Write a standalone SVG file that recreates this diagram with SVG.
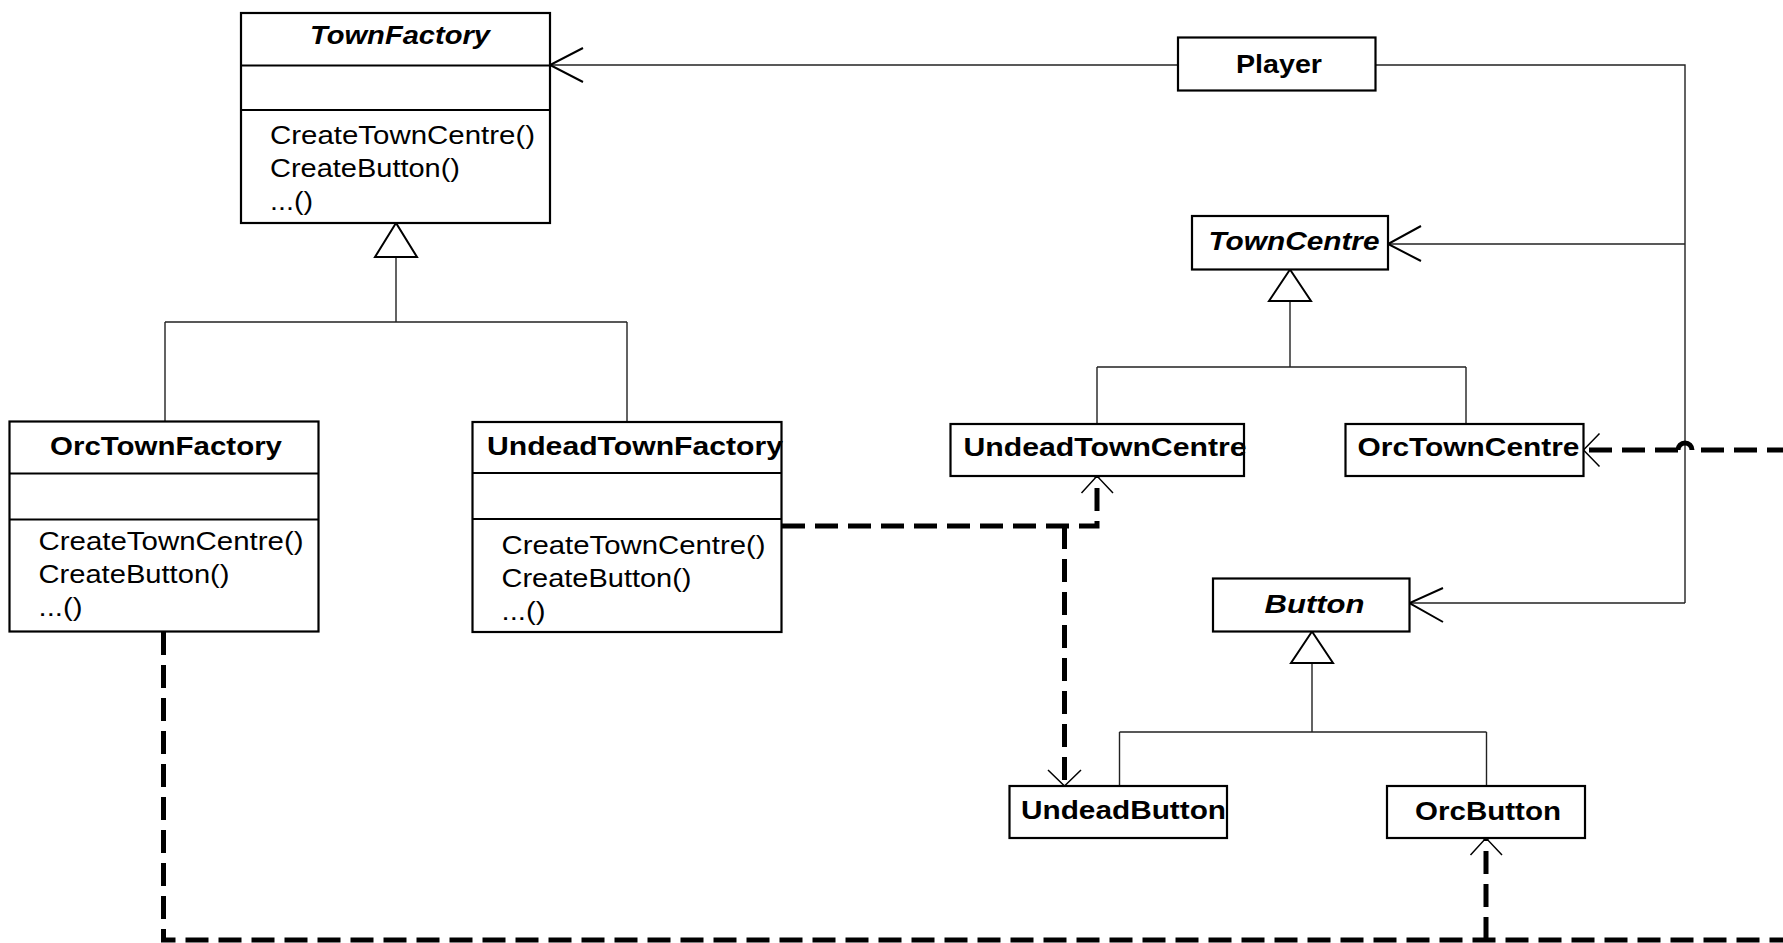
<svg xmlns="http://www.w3.org/2000/svg" width="1783" height="943" viewBox="0 0 1783 943">
<style>
.box{fill:#fff;stroke:#000;stroke-width:2.2}
.sep{stroke:#000;stroke-width:2.2}
.t{font-family:"Liberation Sans",Arial,sans-serif;font-size:25px;fill:#000;font-weight:bold}
.ti{font-family:"Liberation Sans",Arial,sans-serif;font-size:25px;fill:#000;font-weight:bold;font-style:italic}
.m{font-family:"Liberation Sans",Arial,sans-serif;font-size:26px;fill:#000}
.ln{fill:none;stroke:#222;stroke-width:1.4}
.ah{fill:none;stroke:#000;stroke-width:2}
.ahs{fill:none;stroke:#000;stroke-width:1.5}
.tri{fill:#fff;stroke:#000;stroke-width:2}
.dash{fill:none;stroke:#000;stroke-width:5;stroke-dasharray:23 10}
.hop{fill:none;stroke:#000;stroke-width:5}
</style>
<rect width="1783" height="943" fill="#fff"/>

<g id="connectors">
  <!-- Player associations -->
  <path class="ln" d="M1178,65 H550"/>
  <polyline class="ah" points="583,48 550,65 583,82"/>
  <path class="ln" d="M1375.5,65 H1685 V603"/>
  <path class="ln" d="M1685,244 H1388"/>
  <polyline class="ah" points="1421,226 1388,244 1421,261"/>
  <path class="ln" d="M1685,603 H1409.5"/>
  <polyline class="ah" points="1443,588 1409.5,603 1443,622"/>

  <!-- TownFactory inheritance -->
  <path class="ln" d="M396,257 V322 M165,322 H627 M165,322 V421.5 M627,322 V422"/>
  <polygon class="tri" points="396,223 375,257 417,257"/>

  <!-- TownCentre inheritance -->
  <path class="ln" d="M1290,301 V367 M1097,367 H1466 M1097,367 V424 M1466,367 V424"/>
  <polygon class="tri" points="1290,269.5 1269,301 1311,301"/>

  <!-- Button inheritance -->
  <path class="ln" d="M1312,663 V732 M1119.5,732 H1486.5 M1119.5,732 V786 M1486.5,732 V786"/>
  <polygon class="tri" points="1312,631.5 1291,663 1333,663"/>

  <!-- UndeadTownFactory dependencies -->
  <path class="dash" d="M782,526 H1097 V477"/>
  <polyline class="ahs" points="1081.5,493 1097,476 1113,493"/>
  <path class="dash" d="M1064.5,526 V785"/>
  <polyline class="ahs" points="1048,770 1064.5,786 1081,770"/>

  <!-- OrcTownFactory dependencies -->
  <path class="dash" d="M163.5,632 V940 H1790"/>
  <path class="dash" d="M1486,940 V839"/>
  <polyline class="ahs" points="1470.5,855 1486,838 1502,855"/>
  <path class="dash" d="M1790,450 H1692"/>
  <path class="hop" d="M1692,450 A7,7 0 0 0 1678,450"/>
  <path class="dash" d="M1678,450 H1585"/>
  <polyline class="ahs" points="1599.5,433.5 1583.5,450 1599.5,466.5"/>
</g>

<g id="TownFactory">
  <rect class="box" x="241" y="13" width="309" height="210"/>
  <line class="sep" x1="241" y1="65.5" x2="550" y2="65.5"/>
  <line class="sep" x1="241" y1="110" x2="550" y2="110"/>
  <text class="ti" x="310" y="44" textLength="180" lengthAdjust="spacingAndGlyphs">TownFactory</text>
  <text class="m" x="270" y="144" textLength="265" lengthAdjust="spacingAndGlyphs">CreateTownCentre()</text>
  <text class="m" x="270" y="177" textLength="190" lengthAdjust="spacingAndGlyphs">CreateButton()</text>
  <text class="m" x="270" y="210" textLength="43" lengthAdjust="spacingAndGlyphs">...()</text>
</g>

<g id="OrcTownFactory">
  <rect class="box" x="9.5" y="421.5" width="309" height="210"/>
  <line class="sep" x1="9.5" y1="473.5" x2="318.5" y2="473.5"/>
  <line class="sep" x1="9.5" y1="519.5" x2="318.5" y2="519.5"/>
  <text class="t" x="50" y="455" textLength="232" lengthAdjust="spacingAndGlyphs">OrcTownFactory</text>
  <text class="m" x="38.5" y="550" textLength="265" lengthAdjust="spacingAndGlyphs">CreateTownCentre()</text>
  <text class="m" x="38.5" y="583" textLength="191" lengthAdjust="spacingAndGlyphs">CreateButton()</text>
  <text class="m" x="38.5" y="616" textLength="44" lengthAdjust="spacingAndGlyphs">...()</text>
</g>

<g id="UndeadTownFactory">
  <rect class="box" x="472.5" y="422" width="309" height="210"/>
  <line class="sep" x1="472.5" y1="473" x2="781.5" y2="473"/>
  <line class="sep" x1="472.5" y1="519" x2="781.5" y2="519"/>
  <text class="t" x="487" y="455" textLength="296" lengthAdjust="spacingAndGlyphs">UndeadTownFactory</text>
  <text class="m" x="501.5" y="554" textLength="264" lengthAdjust="spacingAndGlyphs">CreateTownCentre()</text>
  <text class="m" x="501.5" y="587" textLength="190" lengthAdjust="spacingAndGlyphs">CreateButton()</text>
  <text class="m" x="501.5" y="620" textLength="44" lengthAdjust="spacingAndGlyphs">...()</text>
</g>

<g id="Player">
  <rect class="box" x="1178" y="37.5" width="197.5" height="53"/>
  <text class="t" x="1236" y="73" textLength="86" lengthAdjust="spacingAndGlyphs">Player</text>
</g>

<g id="TownCentre">
  <rect class="box" x="1192" y="216" width="196" height="53.5"/>
  <text class="ti" x="1208.5" y="250" textLength="171" lengthAdjust="spacingAndGlyphs">TownCentre</text>
</g>

<g id="UndeadTownCentre">
  <rect class="box" x="950.5" y="424" width="293.5" height="52"/>
  <text class="t" x="963.5" y="456" textLength="283" lengthAdjust="spacingAndGlyphs">UndeadTownCentre</text>
</g>

<g id="OrcTownCentre">
  <rect class="box" x="1345.5" y="424" width="238" height="52"/>
  <text class="t" x="1357.5" y="456" textLength="222" lengthAdjust="spacingAndGlyphs">OrcTownCentre</text>
</g>

<g id="Button">
  <rect class="box" x="1213" y="578.5" width="196.5" height="53"/>
  <text class="ti" x="1264.5" y="613" textLength="100" lengthAdjust="spacingAndGlyphs">Button</text>
</g>

<g id="UndeadButton">
  <rect class="box" x="1009.5" y="786" width="217.5" height="52"/>
  <text class="t" x="1021" y="819" textLength="205" lengthAdjust="spacingAndGlyphs">UndeadButton</text>
</g>

<g id="OrcButton">
  <rect class="box" x="1387" y="786" width="198" height="52"/>
  <text class="t" x="1415" y="820" textLength="146" lengthAdjust="spacingAndGlyphs">OrcButton</text>
</g>
</svg>
